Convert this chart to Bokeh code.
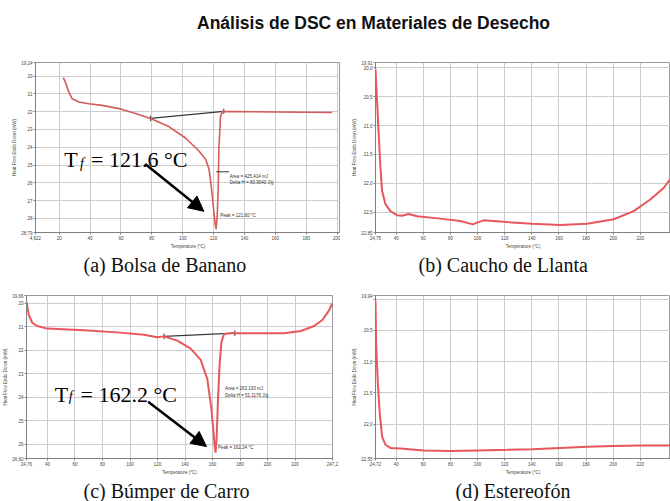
from bokeh.plotting import figure
from bokeh.layouts import column, row
from bokeh.models import (Range1d, FixedTicker, Label, Arrow, NormalHead, Div, Title,
                          CustomJSTickFormatter)
from bokeh.embed import file_html
from bokeh.resources import INLINE

# ---------------- data ----------------
main_title = "Análisis de DSC en Materiales de Desecho"
captions = ["(a) Bolsa de Banano", "(b) Caucho de Llanta", "(c) Búmper de Carro", "(d) Estereofón"]
x_axis_label = "Temperature (°C)"
y_axis_label = "Heat Flow Endo Down (mW)"

# (a) Bolsa de Banano
temp_a = [22.6, 24.1, 26.3, 28.4, 32.8, 39.2, 47.8, 58.7, 69.4, 79.1, 91.0, 101.8, 110.5, 114.8,
          117.0, 118.6, 119.9, 121.0, 121.6, 122.3, 123.0, 123.4, 124.5, 125.6, 134.2, 160.0, 196.8]
heat_a = [20.09, 20.37, 20.92, 21.28, 21.46, 21.56, 21.65, 21.83, 22.10, 22.38, 22.84, 23.48, 24.21, 24.67,
          25.22, 26.30, 27.40, 28.30, 28.60, 27.90, 26.30, 24.10, 22.29, 22.00, 22.00, 22.02, 22.05]
xticks_a = [4.622, 20, 40, 60, 80, 100, 120, 140, 160, 180, 200]
xlabels_a = ["4,622", "20", "40", "60", "80", "100", "120", "140", "160", "180", "200"]
yticks_a = [19.24, 20, 21, 22, 23, 24, 25, 26, 27, 28, 28.79]
ylabels_a = ["19,24", "20", "21", "22", "23", "24", "25", "26", "27", "28", "28,79"]
xrange_a = (4.622, 202.2)
yrange_a = (19.24, 28.79)
baseline_a_x = [79.1, 126.6]
baseline_a_y = [22.38, 21.98]
tf_a = "= 121.6 °C"
area_a = ["Area = 425.414 mJ", "Delta H = 80.9040 J/g"]
peak_a = "Peak = 121.60 °C"

# (b) Caucho de Llanta
temp_b = [24.75, 25.3, 25.9, 27.1, 28.4, 29.6, 32.1, 35.7, 40.6, 44.3, 49.2, 55.4, 72.5, 87.3, 96.6,
          99.6, 104.5, 121.7, 140.2, 161.0, 180.7, 200.4, 215.1, 227.4, 237.2, 242.0]
heat_b = [20.02, 20.30, 20.57, 21.15, 21.73, 22.13, 22.36, 22.48, 22.55, 22.56, 22.53, 22.57, 22.61, 22.65, 22.71,
          22.68, 22.64, 22.67, 22.70, 22.72, 22.70, 22.62, 22.48, 22.28, 22.08, 21.93]
xticks_b = [24.75, 40, 60, 80, 100, 120, 140, 160, 180, 200, 220]
xlabels_b = ["24,75", "40", "60", "80", "100", "120", "140", "160", "180", "200", "220"]
yticks_b = [19.91, 20.0, 20.5, 21.0, 21.5, 22.0, 22.5, 22.85]
ylabels_b = ["19,91", "20,0", "20,5", "21,0", "21,5", "22,0", "22,5", "22,85"]
xrange_b = (24.75, 242.3)
yrange_b = (19.91, 22.85)

# (c) Bumper de Carro
temp_c = [24.76, 26.4, 28.9, 32.5, 39.8, 66.5, 90.7, 110.1, 119.8, 124.7, 134.4, 144.1, 151.4, 156.2, 159.1,
          160.6, 161.6, 162.2, 163.0, 164.0, 165.2, 166.5, 168.4, 173.2, 212.0, 224.2, 233.9, 240.0, 244.8, 247.0]
heat_c = [19.93, 20.48, 20.82, 20.96, 21.07, 21.14, 21.23, 21.33, 21.44, 21.40, 21.58, 21.92, 22.40, 23.22, 24.45,
          25.41, 26.10, 26.35, 25.68, 24.04, 22.53, 21.64, 21.30, 21.27, 21.27, 21.17, 20.96, 20.69, 20.28, 20.00]
xticks_c = [24.76, 40, 60, 80, 100, 120, 140, 160, 180, 200, 220, 247.2]
xlabels_c = ["24,76", "40", "60", "80", "100", "120", "140", "160", "180", "200", "220", "247,2"]
yticks_c = [19.66, 20, 21, 22, 23, 24, 25, 26, 26.6]
ylabels_c = ["19,66", "20", "21", "22", "23", "24", "25", "26", "26,60"]
xrange_c = (24.76, 247.2)
yrange_c = (19.66, 26.6)
baseline_c_x = [124.7, 176.2]
baseline_c_y = [21.40, 21.26]
tf_c = "= 162.2 °C"
area_c = ["Area = 263.193 mJ", "Delta H = 51.1176 J/g"]
peak_c = "Peak = 162.24 °C"

# (d) Estereofon
temp_d = [24.72, 25.2, 26.4, 27.9, 29.6, 32.1, 35.7, 43.1, 60.3, 80.0, 99.6, 121.8, 140.2, 161.1,
          180.8, 200.4, 220.1, 242.2]
heat_d = [20.02, 20.71, 21.33, 21.84, 22.20, 22.33, 22.38, 22.39, 22.42, 22.43, 22.42, 22.41, 22.40, 22.38,
          22.36, 22.35, 22.34, 22.34]
xticks_d = [24.72, 40, 60, 80, 100, 120, 140, 160, 180, 200, 220]
xlabels_d = ["24,72", "40", "60", "80", "100", "120", "140", "160", "180", "200", "220"]
yticks_d = [19.94, 20.0, 20.5, 21.0, 21.5, 22.0, 22.55]
ylabels_d = ["19,94", "", "20,5", "21,0", "21,5", "22,0", "22,55"]
xrange_d = (24.72, 242.3)
yrange_d = (19.94, 22.55)

CURVE = "#e9565b"
GRID = "#cccccc"
SMALL = "4.5px"


def fmt(tv, lv):
    return CustomJSTickFormatter(args=dict(tv=tv, lv=lv), code="""
        for (let i = 0; i < tv.length; i++) {
            if (Math.abs(tv[i] - tick) < 1e-6) return lv[i];
        }
        return "";
    """)


def panel(width, height, mb, xr, yr, xt, xl, yt, yl, caption, cap_offset):
    p = figure(width=width, height=height, output_backend="svg", toolbar_location=None,
               x_range=Range1d(xr[0], xr[1]), y_range=Range1d(yr[1], yr[0]),
               min_border_left=mb[0], min_border_right=mb[1], min_border_top=mb[2], min_border_bottom=mb[3],
               background_fill_color="white", border_fill_color="white")
    p.xaxis.ticker = FixedTicker(ticks=xt)
    p.xaxis.formatter = fmt(xt, xl)
    p.yaxis.ticker = FixedTicker(ticks=yt)
    p.yaxis.formatter = fmt(yt, yl)
    for ax in (p.xaxis, p.yaxis):
        ax.major_label_text_font_size = SMALL
        ax.major_label_text_color = "#444444"
        ax.major_label_text_font = "Liberation Sans"
        ax.major_label_standoff = 1
        ax.axis_label_text_font_size = SMALL
        ax.axis_label_text_font_style = "normal"
        ax.axis_label_text_font = "Liberation Sans"
        ax.axis_label_text_color = "#444444"
        ax.axis_label_standoff = 1
        ax.major_tick_out = 2
        ax.major_tick_in = 0
        ax.minor_tick_line_color = None
        ax.axis_line_color = "#808080"
        ax.major_tick_line_color = "#808080"
    p.xaxis.axis_label = x_axis_label
    p.yaxis.axis_label = y_axis_label
    p.grid.grid_line_color = GRID
    p.outline_line_color = "#9a9a9a"
    p.add_layout(Title(text=caption, align="left", offset=cap_offset, text_font="Liberation Serif",
                       text_font_size="20px", text_font_style="normal", text_color="#111111",
                       standoff=0), "below")
    return p


def tf_label(p, x, y, xf, yf, xe, rest):
    p.add_layout(Label(x=x, y=y, text="T", text_font="Liberation Serif", text_font_size="22px",
                       text_baseline="alphabetic", text_color="black"))
    p.add_layout(Label(x=xf, y=yf, text="f", text_font="Liberation Serif", text_font_size="14px",
                       text_font_style="italic", text_baseline="alphabetic", text_color="black"))
    p.add_layout(Label(x=xe, y=y, text=rest, text_font="Liberation Serif", text_font_size="22px",
                       text_baseline="alphabetic", text_color="black"))


def small(p, x, y, text):
    p.add_layout(Label(x=x, y=y, text=text, text_font="Liberation Sans", text_font_size=SMALL,
                       text_color="#333333", text_baseline="middle"))


# (a)
pa = panel(340, 235, (35, 0, 12, 52), xrange_a, yrange_a, xticks_a, xlabels_a, yticks_a, ylabels_a,
           captions[0], 48)
pa.line(baseline_a_x, baseline_a_y, line_color="#3a3a3a", line_width=1.3)
pa.segment(x0=baseline_a_x, y0=[v - 0.15 for v in baseline_a_y], x1=baseline_a_x,
           y1=[v + 0.15 for v in baseline_a_y], line_color="#3a3a3a", line_width=1)
pa.line(temp_a, heat_a, line_color="#d65a5a", line_width=1.6)
pa.segment(x0=[121.7], y0=[25.38], x1=[130.1], y1=[25.38], line_color="#333333", line_width=1)
small(pa, 130.5, 25.62, area_a[0])
small(pa, 130.5, 26.0, area_a[1])
small(pa, 124.3, 27.84, peak_a)
tf_label(pa, 23.2, 24.67, 33.5, 24.89, 40.6, tf_a)
pa.add_layout(Arrow(end=NormalHead(size=15, fill_color="black", line_color="black"),
                    x_start=75.7, y_start=24.94, x_end=113.7, y_end=27.6,
                    line_color="black", line_width=2.5))

# (b)
pb = panel(330, 235, (35, 0, 12, 53), xrange_b, yrange_b, xticks_b, xlabels_b, yticks_b, ylabels_b,
           captions[1], 43)
pb.line(temp_b, heat_b, line_color=CURVE, line_width=2)

# (c)
pc = panel(340, 216, (26, 8, 10, 37), xrange_c, yrange_c, xticks_c, xlabels_c, yticks_c, ylabels_c,
           captions[2], 57)
pc.line(baseline_c_x, baseline_c_y, line_color="#3a3a3a", line_width=1.3)
pc.segment(x0=baseline_c_x, y0=[v - 0.12 for v in baseline_c_y], x1=baseline_c_x,
           y1=[v + 0.12 for v in baseline_c_y], line_color="#3a3a3a", line_width=1)
pc.line(temp_c, heat_c, line_color=CURVE, line_width=2)
small(pc, 169.0, 23.64, area_c[0])
small(pc, 169.0, 23.93, area_c[1])
small(pc, 163.9, 26.15, peak_c)
tf_label(pc, 45.3, 23.88, 55.5, 23.97, 64.0, tf_c)
pc.add_layout(Arrow(end=NormalHead(size=15, fill_color="black", line_color="black"),
                    x_start=113.2, y_start=24.18, x_end=155.6, y_end=26.09,
                    line_color="black", line_width=2.5))

# (d)
pd_ = panel(330, 216, (35, 0, 10, 37), xrange_d, yrange_d, xticks_d, xlabels_d, yticks_d, ylabels_d,
            captions[3], 80)
pd_.line(temp_d, heat_d, line_color=CURVE, line_width=2)

title_div = Div(text=('<div style="padding:11px 0 0 197px;font-family:\'Liberation Sans\',Arial,sans-serif;'
                      'font-weight:bold;font-size:17.5px;color:#111;white-space:nowrap">'
                      + main_title + '</div>'),
                width=670, height=50, margin=(0, 0, 0, 0))

layout = column(title_div, row(pa, pb, spacing=0), row(pc, pd_, spacing=0), spacing=0)

open("out.html", "w").write(file_html(layout, INLINE))
